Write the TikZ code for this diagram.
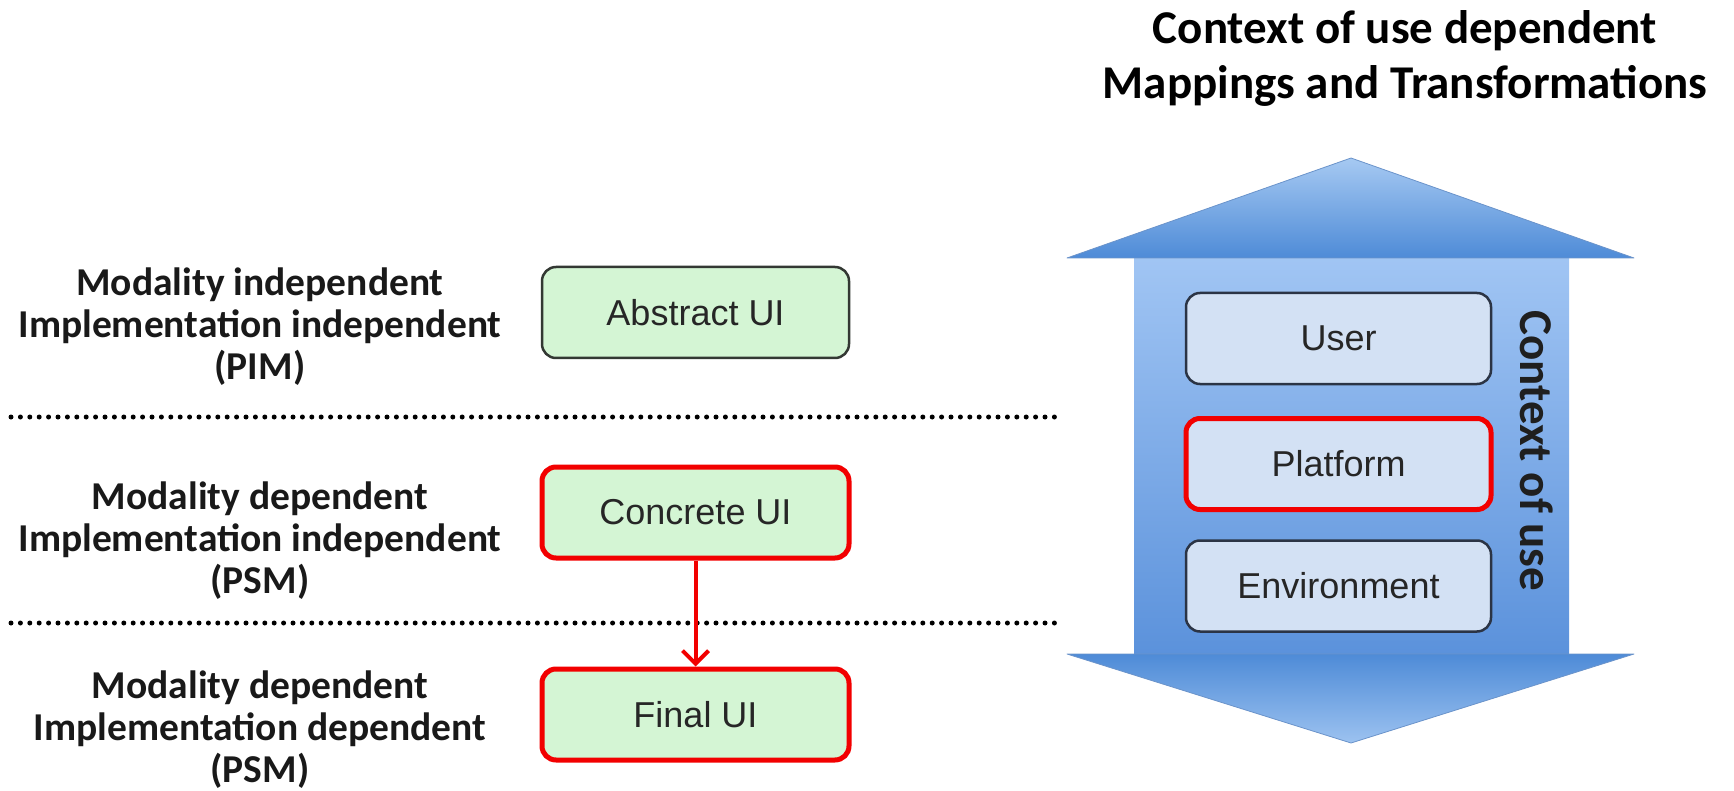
\documentclass[tikz,border=0pt]{standalone}
\usepackage{fontspec}
\setmainfont{Liberation Sans}
\newfontfamily\calib{Carlito}
\usetikzlibrary{arrows.meta}

\definecolor{mint}{HTML}{D4F5D4}
\definecolor{boxline}{HTML}{333833}
\definecolor{ctxfill}{HTML}{D3E1F4}
\definecolor{ctxline}{HTML}{2B3445}
\definecolor{hlred}{HTML}{F20000}
\definecolor{headtip}{HTML}{A6C9F2}
\definecolor{headbase}{HTML}{4E8BD7}
\definecolor{shafttop}{HTML}{A2C6F4}
\definecolor{shaftbot}{HTML}{5A91DB}
\definecolor{lowtip}{HTML}{9CC2F0}
\definecolor{arrowedge}{HTML}{6A93CA}

\begin{document}
\begin{tikzpicture}[x=1pt,y=-1pt,
  labeltext/.style={font=\calib\bfseries\fontsize{39.5}{42}\selectfont,
    align=center, text=black!90},
  titletext/.style={font=\calib\bfseries\fontsize{47}{55}\selectfont,
    align=center, text=black},
  uibox/.style={draw=boxline, line width=2.5pt, rounded corners=14pt,
    fill=mint, minimum width=307pt, minimum height=91pt,
    font=\fontsize{36}{40}\selectfont, text=black!85},
  ctxbox/.style={uibox, fill=ctxfill, draw=ctxline, minimum width=305pt},
  hilite/.style={draw=hlred, line width=5pt},
  dotline/.style={line width=5pt, line cap=round,
    dash pattern=on 0pt off 9.4pt},
  flow/.style={draw=hlred, line width=4pt,
    -{Straight Barb[length=13pt,width=26pt,line width=4pt]}},
  arrowpart/.style={draw=arrowedge, line width=0.8pt, line join=round}]

\useasboundingbox (0,0) rectangle (1734,791);

% title
\node[titletext] (title) at (1405,58) {Context of use dependent\\Mappings and Transformations};

% double-headed context arrow: shaft, then the two heads
\shade[top color=shafttop, bottom color=shaftbot]
  (1134,250) rectangle (1569,660);
\shade[arrowpart, top color=headtip, bottom color=headbase]
  (1351,158) -- (1634,258) -- (1067,258) -- cycle;
\shade[arrowpart, top color=headbase, bottom color=lowtip]
  (1067,654) -- (1634,654) -- (1351,743) -- cycle;

% context boxes
\node[ctxbox] (user) at (1338.5,338.5) {User};
\node[ctxbox, hilite] (platform) at (1338.5,464) {Platform};
\node[ctxbox] (env) at (1338.5,586) {Environment};
\node[font=\calib\bfseries\fontsize{47}{50}\selectfont, rotate=-90, text=black!88]
  (ctx) at (1537,451) {Context of use};

% level separators
\coordinate (s1a) at (11,417);  \coordinate (s1b) at (1060,417);
\coordinate (s2a) at (11,623);  \coordinate (s2b) at (1060,623);
\draw[dotline] (s1a) -- (s1b);
\draw[dotline] (s2a) -- (s2b);

% level labels
\node[labeltext] (pim) at (260,327) {Modality independent\\Implementation independent\\(PIM)};
\node[labeltext] (psm1) at (260,541) {Modality dependent\\Implementation independent\\(PSM)};
\node[labeltext] (psm2) at (260,730) {Modality dependent\\Implementation dependent\\(PSM)};

% UI levels
\node[uibox] (aui) at (695.5,312.5) {Abstract UI};
\node[uibox, hilite] (cui) at (695.5,512.5) {Concrete UI};
\node[uibox, hilite] (fui) at (695.5,714.5) {Final UI};

\draw[flow] (cui.south) -- (fui.north);
\end{tikzpicture}
\end{document}
